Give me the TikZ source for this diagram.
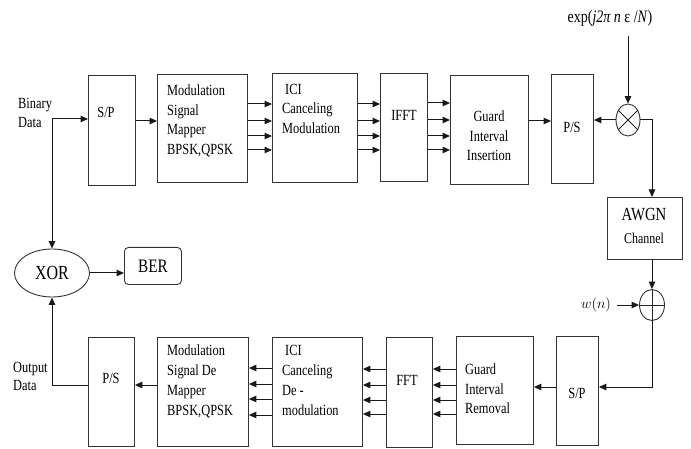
\documentclass[tikz,border=0pt]{standalone}
\usepackage{fontspec}
\setmainfont{Liberation Serif}[FakeStretch=0.8]
\usetikzlibrary{arrows.meta,shapes.geometric}
\begin{document}
\begin{tikzpicture}[x=1pt,y=-1pt,
 box/.style={draw=black!80, line width=0.9pt, inner sep=0pt, anchor=north west},
 arr/.style={-{Triangle[length=7.5pt,width=6.5pt]}, line width=1pt, draw=black!90},
 ln/.style={line width=0.9pt, draw=black!85},
 txt/.style={font=\fontsize{15.5}{19.5}\selectfont, inner sep=0pt, align=left, anchor=north west},
 ctxt/.style={font=\fontsize{15.5}{19.5}\selectfont, inner sep=0pt, align=center}]
\useasboundingbox (0,0) rectangle (691,449);
\fill[white] (0,0) rectangle (691,449);
% top row boxes
\node[box, minimum width=47pt, minimum height=110pt] (sp1) at (88,75) {};
\node[box, minimum width=90pt, minimum height=108pt] (map) at (157,74) {};
\node[box, minimum width=85pt, minimum height=109pt] (ici1) at (272,73) {};
\node[box, minimum width=47pt, minimum height=108pt] (ifft) at (380,73) {};
\node[box, minimum width=78pt, minimum height=109pt] (gii) at (450,75) {};
\node[box, minimum width=42pt, minimum height=109pt] (ps1) at (551,74) {};
\node[box, minimum width=75pt, minimum height=62pt] (awgn) at (607,197) {};
% bottom row boxes
\node[box, minimum width=42pt, minimum height=109pt] (sp2) at (556,336) {};
\node[box, minimum width=77pt, minimum height=108pt] (gir) at (456,336) {};
\node[box, minimum width=46pt, minimum height=110pt] (fft) at (386,337) {};
\node[box, minimum width=90pt, minimum height=109pt] (ici2) at (272,337) {};
\node[box, minimum width=91pt, minimum height=109pt] (demap) at (157,337) {};
\node[box, minimum width=46pt, minimum height=109pt] (ps2) at (88,337) {};
% xor, ber
\node[draw=black!80, line width=0.9pt, ellipse, minimum width=75pt, minimum height=48pt, inner sep=0pt, font=\fontsize{20}{20}\selectfont] (xor) at (52,273) {XOR};
\node[draw=black!80, line width=0.9pt, rounded corners=4pt, minimum width=57pt, minimum height=37pt, inner sep=0pt, anchor=north west, font=\fontsize{19}{19}\selectfont] (ber) at (124,247) {BER};
% multiplier and adder
\node[draw=black!80, line width=0.9pt, ellipse, minimum width=24pt, minimum height=32pt, inner sep=0pt] (mul) at (628,120) {};
\draw[ln] (mul.45) -- (mul.225) (mul.135) -- (mul.315);
\node[draw=black!80, line width=0.9pt, ellipse, minimum width=25pt, minimum height=31pt, inner sep=0pt] (add) at (652,305) {};
\draw[ln] (add.north) -- (add.south) (add.west) -- (add.east);
% texts
\node[txt, font=\fontsize{15.5}{19}\selectfont] (bin) at (18,98) {Binary\\Data};
\node[txt, font=\fontsize{15.5}{18}\selectfont] (out) at (13,362) {Output\\Data};
\node[ctxt] (sp1t) at (106,112) {S/P};
\node[txt] (mapt) at (167,85) {Modulation\\Signal\\Mapper\\BPSK,QPSK};
\node[txt] (ici1t) at (282,84) {\hspace*{3pt}ICI\\Canceling\\Modulation};
\node[ctxt] (ifftt) at (404,115) {IFFT};
\node[ctxt] (giit) at (489,136) {Guard\\Interval\\Insertion};
\node[ctxt] (ps1t) at (572,127) {P/S};
\node[inner sep=0pt, font=\fontsize{18.5}{18.5}\selectfont] (awgnt) at (644,215) {AWGN};
\node[inner sep=0pt, font=\fontsize{15}{15}\selectfont] (chant) at (644,238) {Channel};
\node[inner sep=0pt, font=\fontsize{17.5}{17.5}\selectfont] (exp) at (610,18) {exp(\textit{j2π n} ε /\textit{N})};
\node[inner sep=0pt, font=\fontsize{15}{15}\selectfont] (wn) at (596,305) {$w(n)$};
\node[ctxt] (ps2t) at (111,378) {P/S};
\node[txt, font=\fontsize{15.5}{20}\selectfont] (demapt) at (167,345) {Modulation\\Signal De\\Mapper\\BPSK,QPSK};
\node[txt, font=\fontsize{15.5}{20}\selectfont] (ici2t) at (282,345) {\hspace*{3pt}ICI\\Canceling\\De -\\modulation};
\node[ctxt] (fftt) at (407,380) {FFT};
\node[txt] (girt) at (465,364) {Guard\\Interval\\Removal};
\node[ctxt] (sp2t) at (577,393) {S/P};
% connectors top
\coordinate (j1) at (52,119);
\draw[arr] (j1) -- (j1 -| sp1.west);
\draw[arr] (j1) -- (xor.north);
\draw[arr] (sp1.east |- 0,121) -- (map.west |- 0,121);
\foreach \y in {104,121,136,150} {
  \draw[arr] (map.east |- 0,\y) -- (ici1.west |- 0,\y);
  \draw[arr] (ici1.east |- 0,\y) -- (ifft.west |- 0,\y);
}
\foreach \y in {103,120,136,150}
  \draw[arr] (ifft.east |- 0,\y) -- (gii.west |- 0,\y);
\draw[arr] (gii.east |- 0,121) -- (ps1.west |- 0,121);
\coordinate (e1) at (628,36);
\draw[arr] (e1) -- (mul.north);
\draw[arr] (mul.west) -- (mul.west -| ps1.east);
\coordinate (c1) at (652,120);
\draw[arr] (mul.east) -- (c1) -- (c1 |- awgn.north);
\draw[arr] (add.north |- awgn.south) -- (add.north);
\draw[arr] ([xshift=6pt]wn.east) -- (add.west);
\coordinate (c2) at (652,387);
\draw[arr] (add.south) -- (c2) -- (c2 -| sp2.east);
\draw[arr] (sp2.west |- c2) -- (gir.east |- c2);
\foreach \y in {369,385,400,414} {
  \draw[arr] (gir.west |- 0,\y) -- (fft.east |- 0,\y);
  \draw[arr] (fft.west |- 0,\y) -- (ici2.east |- 0,\y);
}
\foreach \y in {368,384,399,415}
  \draw[arr] (ici2.west |- 0,\y) -- (demap.east |- 0,\y);
\draw[arr] (demap.west |- 0,385) -- (ps2.east |- 0,385);
\coordinate (c3) at (52,385);
\draw[arr] (ps2.west |- c3) -- (c3) -- (xor.south);
\draw[arr] (xor.east) -- (xor.east -| ber.west);
\end{tikzpicture}
\end{document}
